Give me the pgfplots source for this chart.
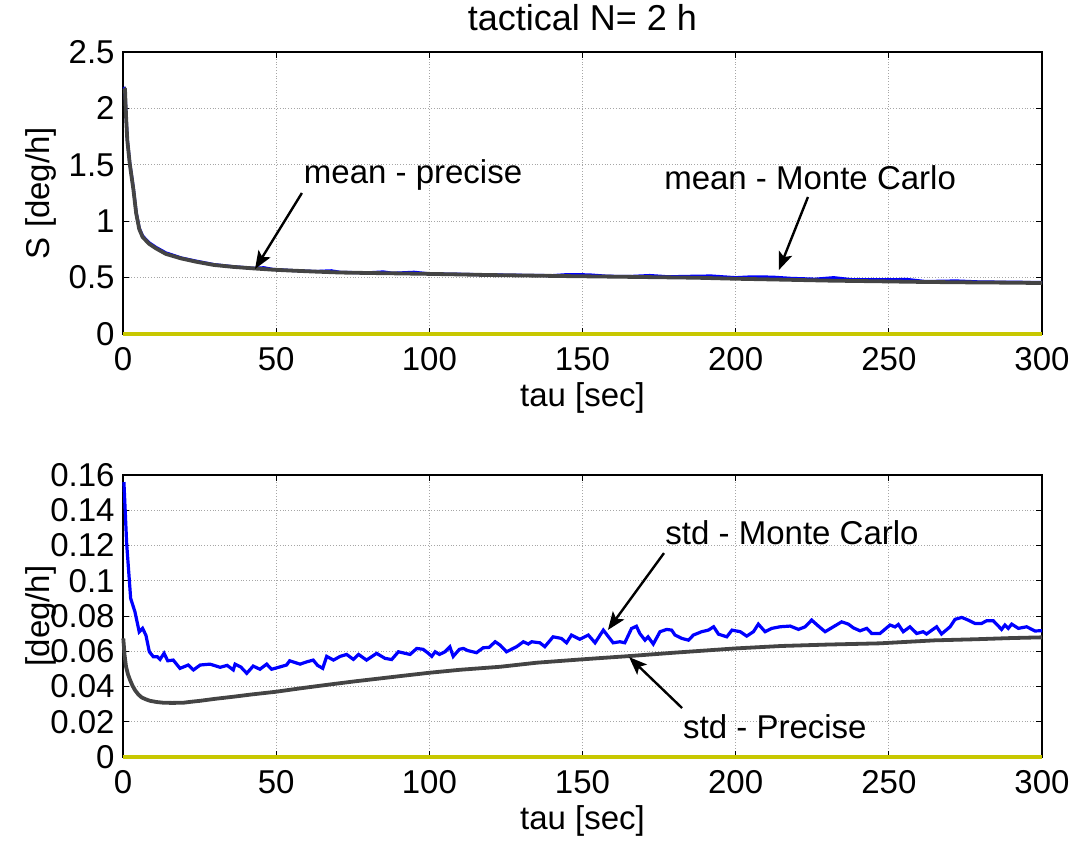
\documentclass[border=0pt]{standalone}
\usepackage{fontspec}
\setmainfont{Liberation Sans}
\usepackage{pgfplots}
\pgfplotsset{compat=1.18}
\usetikzlibrary{arrows.meta}

\definecolor{mblue}{RGB}{0,0,255}
\definecolor{mgray}{RGB}{68,68,68}
\definecolor{myellow}{RGB}{200,200,0}
\newcommand\mfont{\fontsize{16.5}{19.8}\selectfont}

\tikzset{arr/.style={-{Stealth[length=9pt, width=7pt, inset=2pt]}, line width=1.2pt, black}}

\pgfplotsset{
  mstyle/.style={
    scale only axis, width=459.5pt, height=141pt,
    xmin=0, xmax=300, xtick={0,50,...,300},
    grid=major, grid style={densely dotted, gray!70, line width=0.4pt},
    tick align=inside, major tick length=3pt,
    tick style={black, line width=0.5pt},
    axis line style={black, line width=0.8pt},
    /pgf/number format/assume math mode=true,
    scaled y ticks=false,
    xticklabel style={font=\mfont, anchor=base, inner sep=0pt, yshift=-18pt},
    yticklabel style={font=\mfont, anchor=east, inner sep=0pt, xshift=-4pt},
    xlabel={tau [sec]},
    xlabel style={font=\mfont, at={(axis description cs:0.5,0)}, anchor=base, yshift=-36pt},
    ylabel style={font=\mfont, inner sep=0pt, at={([xshift=-41pt]axis description cs:0,0.5)}, anchor=center},
    clip=false,
  },
}

\begin{document}
\begin{tikzpicture}
\path[use as bounding box] (-61.5pt,-254.5pt) rectangle (476pt,167pt);

% upper panel: mean
\begin{axis}[mstyle, at={(0,0)}, anchor=south west,
    ymin=0, ymax=2.5, ytick={0,0.5,1,1.5,2,2.5},
    yticklabels={0,0.5,1,1.5,2,2.5},
    ylabel={S [deg/h]},
    title={tactical N= 2 h},
    every axis title shift=0pt,
    title style={font=\fontsize{18}{21}\selectfont, at={(axis description cs:0.5,1)}, anchor=base, yshift=11pt},
]
\addplot[mblue, line width=1.5pt] coordinates {
  (0.3,2.19) (0.65,2.17) (1.0,1.94) (1.4,1.73) (2.2,1.52) (3.4,1.29) (4.3,1.08)
  (5.3,0.94) (6.4,0.87) (8.5,0.81) (10.7,0.77) (14,0.72) (19,0.675) (24,0.646)
  (29.7,0.616) (36,0.597) (42.4,0.584) (46,0.588) (49,0.573) (56,0.562) (63,0.555)
  (68,0.561) (71,0.547) (80,0.543) (85,0.551) (88,0.539) (95,0.548) (100,0.534)
  (110,0.53) (119,0.525) (130,0.521) (140,0.518) (145,0.527) (152,0.525) (158,0.513)
  (165,0.51) (172,0.519) (178,0.508) (185,0.512) (192,0.515) (200,0.5) (205,0.507)
  (212,0.505) (218,0.494) (226,0.487) (232,0.5) (238,0.482) (250,0.482) (256,0.484)
  (262,0.466) (272,0.471) (280,0.462) (290,0.46) (300,0.457)};
\addplot[mgray, line width=1.9pt] coordinates {
  (0.3,2.18) (0.65,2.17) (1.0,1.93) (1.4,1.72) (2.2,1.51) (3.4,1.28) (4.3,1.07)
  (5.3,0.93) (6.4,0.86) (8.5,0.80) (10.7,0.76) (14,0.71) (19,0.67) (24,0.64)
  (29.7,0.612) (36,0.595) (42.4,0.582) (49,0.57) (56,0.561) (63,0.553) (71,0.545)
  (80,0.541) (88,0.538) (100,0.533) (110,0.528) (119,0.523) (130,0.519) (143,0.514)
  (155,0.51) (170,0.505) (187,0.499) (200,0.49) (215,0.482) (231,0.473) (245,0.468)
  (260,0.462) (275,0.458) (290,0.455) (300,0.452)};
\addplot[myellow, line width=1.6pt] coordinates {(0,0) (300,0)};
\node[font=\mfont] at (axis cs:94.7,1.41) {mean - precise};
\draw[arr] (axis cs:58.4,1.25) -- (axis cs:43.1,0.576);
\node[font=\mfont] at (axis cs:224.3,1.383) {mean - Monte Carlo};
\draw[arr] (axis cs:223.6,1.215) -- (axis cs:214.1,0.567);
\end{axis}

% lower panel: std
\begin{axis}[mstyle, at={(0,-211.5pt)}, anchor=south west,
    ymin=0, ymax=0.16, ytick={0,0.02,0.04,0.06,0.08,0.1,0.12,0.14,0.16},
    yticklabels={0,0.02,0.04,0.06,0.08,0.1,0.12,0.14,0.16},
    ylabel={[deg/h]},
]
\addplot[mblue, line width=1.6pt] coordinates {
  (0.3,0.156) (1.2,0.121) (2.5,0.090) (3.9,0.0824) (5.3,0.071) (6.4,0.073) (7.5,0.069)
  (8.6,0.0597) (9.9,0.0569) (11.2,0.0569) (12.1,0.0554) (13.4,0.0588) (14.6,0.0546)
  (16.4,0.055) (18.6,0.0503) (21.3,0.0522) (23.0,0.0494) (25.2,0.0522) (28.4,0.0527)
  (31.7,0.0509) (34,0.052) (36.0,0.0494) (36.6,0.0527) (38.5,0.051) (40.4,0.0475)
  (42.5,0.0516) (44.7,0.0498) (46.9,0.0527) (48.5,0.0498) (51,0.051) (53.4,0.0522)
  (54.4,0.0546) (57.8,0.0527) (60,0.054) (62.1,0.055) (63.5,0.052) (65.2,0.0503)
  (66.5,0.0571) (68.7,0.055) (70.9,0.0571) (73.0,0.0582) (75.2,0.0554) (76.9,0.0582)
  (79.5,0.055) (82.8,0.0588) (85.5,0.056) (87.7,0.0553) (89.9,0.0597) (93.7,0.0582)
  (95.9,0.0616) (98.0,0.0611) (99.7,0.0588) (100.8,0.0571) (101.9,0.0597) (103.3,0.0582)
  (105.1,0.0597) (106.7,0.0625) (107.8,0.0571) (109.8,0.0611) (111.1,0.0616) (112.5,0.0604)
  (115.4,0.0592) (117.6,0.062) (119.5,0.0622) (121.5,0.0654) (123.1,0.0635) (125.2,0.0597)
  (128.5,0.0626) (130.7,0.0654) (132.3,0.0641) (133.4,0.0654) (136.1,0.0648) (137.7,0.0626)
  (140.4,0.0682) (143.1,0.0673) (144.8,0.0648) (146.4,0.0692) (149.1,0.0668) (151.9,0.0692)
  (154.1,0.0648) (156.8,0.072) (160.0,0.0648) (162.2,0.0654) (163.8,0.0648) (166.0,0.0729)
  (167.6,0.0742) (168.7,0.0701) (170.4,0.0663) (171.4,0.0682) (173.1,0.0641) (175.3,0.0711)
  (177.5,0.0724) (179.1,0.072) (180.2,0.0692) (182.4,0.0673) (184.6,0.0663) (186.2,0.0692)
  (188.9,0.0711) (191.1,0.072) (192.8,0.0739) (194.4,0.0697) (197.1,0.0682) (198.8,0.072)
  (201.5,0.0711) (203.6,0.0686) (205.8,0.0711) (207.4,0.0754) (209.6,0.0711) (211.8,0.073)
  (214.5,0.0739) (217.8,0.0743) (220.5,0.0724) (222.7,0.0739) (224.8,0.0777) (227.0,0.0743)
  (229.2,0.0711) (231.9,0.0739) (234.6,0.0767) (236.8,0.0754) (238.4,0.0733) (240.6,0.0716)
  (242.8,0.073) (244.4,0.0701) (247.1,0.0701) (250.4,0.0749) (252,0.0738) (253.1,0.0752)
  (254.7,0.0711) (256.9,0.0739) (259.1,0.0701) (261.2,0.0711) (262.3,0.0698) (265.6,0.0739)
  (267.2,0.0698) (270,0.0739) (271.6,0.0781) (273.8,0.0792) (275.9,0.0777) (278.1,0.0758)
  (280.3,0.0758) (281.9,0.0773) (284.1,0.0773) (286.8,0.0724) (287.9,0.0749) (289.0,0.073)
  (290.1,0.0754) (292.3,0.073) (295.0,0.0739) (297.7,0.0715) (300,0.0717)};
\addplot[mgray, line width=1.9pt] coordinates {
  (0.1,0.0673) (0.5,0.058) (1.0,0.0512) (1.6,0.047) (2.3,0.0437) (3.1,0.0405) (3.9,0.038)
  (5,0.0355) (6.1,0.0338) (7.5,0.0327) (8.8,0.0319) (11,0.0312) (13.2,0.0308) (16,0.0307)
  (19.7,0.0308) (22,0.0313) (25.2,0.0319) (30,0.033) (36,0.0342) (42,0.0355) (49.8,0.037)
  (58,0.039) (68.6,0.0414) (76,0.043) (84,0.0446) (90.4,0.0459) (100,0.0478) (110,0.0495)
  (123.1,0.0512) (135,0.0535) (149.7,0.0554) (165.5,0.0573) (180,0.0592) (199.8,0.0616)
  (215,0.063) (230,0.0638) (247,0.0645) (265,0.0662) (278,0.0668) (290,0.0675) (300,0.0679)};
\addplot[myellow, line width=1.6pt] coordinates {(0,0) (300,0)};
\node[font=\mfont] at (axis cs:218.4,0.1271) {std - Monte Carlo};
\draw[arr] (axis cs:176.6,0.1157) -- (axis cs:158.3,0.0721);
\node[font=\mfont] at (axis cs:212.8,0.0170) {std - Precise};
\draw[arr] (axis cs:182.5,0.0278) -- (axis cs:165.2,0.0567);
\end{axis}
\end{tikzpicture}
\end{document}
